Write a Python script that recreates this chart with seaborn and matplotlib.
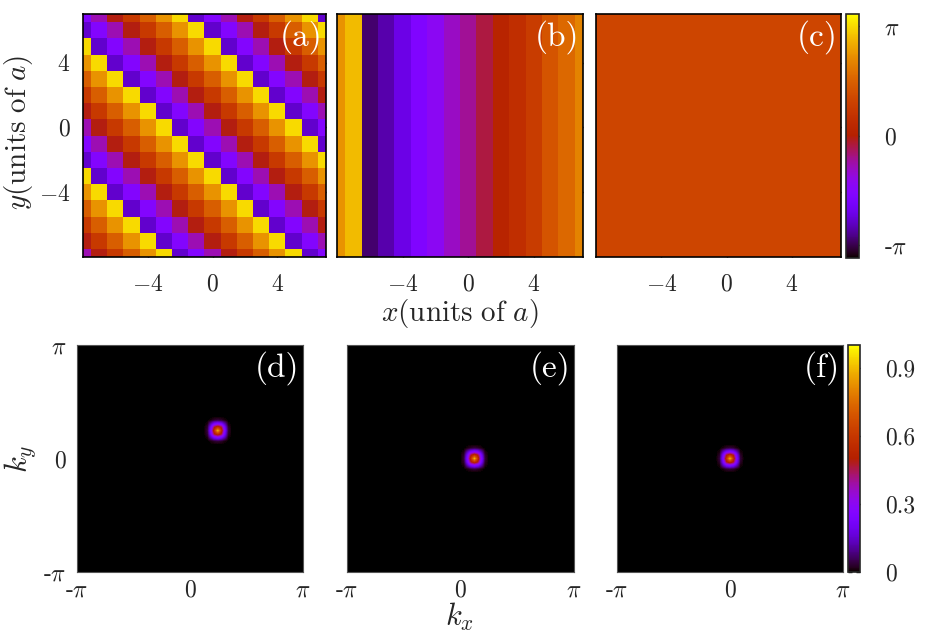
import numpy as np
import matplotlib
matplotlib.use('Agg')
import matplotlib.pyplot as plt
import seaborn as sns

# phase maps (top row), values in radians
SITES = list(range(-8, 8))
PHASE_LEVELS_A = [-2.45, -1.65, -0.86, -0.07, 0.74, 1.53, 2.31, 3.12]
# level index per site, row y=7 first, column x=-8 first
ROWS_A = [
    "1234567012345670",
    "0123456701234567",
    "7012345670123456",
    "6701234567012345",
    "5670123456701234",
    "4567012345670123",
    "3456701234567012",
    "2345670123456701",
    "1234567012345670",
    "0123456701234567",
    "7012345670123456",
    "6701234567012345",
    "5670123456701234",
    "4567012345670123",
    "3456701234567012",
    "2345670123456701",
]
PHASE_B = [2.31, 2.80, -3.00, -2.66, -2.24, -1.75, -1.40, -0.98,
           -0.71, -0.28, 0.14, 0.46, 0.81, 1.33, 1.68, 2.10]
PHASE_C = 1.02
PHASE_RANGE = 3.5

# momentum distributions (bottom row)
NK = 65
SPOT_PATCH = [
    [0.00, 0.01, 0.03, 0.04, 0.03, 0.01, 0.00],
    [0.01, 0.12, 0.22, 0.26, 0.22, 0.12, 0.01],
    [0.03, 0.22, 0.48, 0.58, 0.48, 0.22, 0.03],
    [0.04, 0.26, 0.58, 0.90, 0.58, 0.26, 0.04],
    [0.03, 0.22, 0.48, 0.58, 0.48, 0.22, 0.03],
    [0.01, 0.12, 0.22, 0.26, 0.22, 0.12, 0.01],
    [0.00, 0.01, 0.03, 0.04, 0.03, 0.01, 0.00],
]
SPOT_CENTERS = [(0.785, 0.785), (0.39, 0.0), (0.0, 0.0)]

TOP_LABELS = ['(a)', '(b)', '(c)']
BOTTOM_LABELS = ['(d)', '(e)', '(f)']

sns.set_style('ticks')
plt.rcParams['font.family'] = ['cmr10', 'DejaVu Serif']
plt.rcParams['mathtext.fontset'] = 'cm'
plt.rcParams['axes.formatter.use_mathtext'] = True
plt.rcParams['axes.unicode_minus'] = False

TICK_FS = 17
W, H = 929, 640
fig = plt.figure(figsize=(W / 100, H / 100), dpi=100)


def rect(x0, y0, x1, y1):
    return [x0 / W, 1 - y1 / H, (x1 - x0) / W, (y1 - y0) / H]


grid_a = np.array([[PHASE_LEVELS_A[int(c)] for c in row] for row in ROWS_A])
grid_b = np.tile(PHASE_B, (len(SITES), 1))
grid_c = np.full((len(SITES), len(SITES)), PHASE_C)

top_rects = [rect(83, 14, 326, 257), rect(337, 14, 583, 257), rect(596, 14, 841, 257)]
cax_top = fig.add_axes(rect(846, 13.5, 859, 257.5))

hm_ax = None
for i, (grid, r, lab) in enumerate(zip([grid_a, grid_b, grid_c], top_rects, TOP_LABELS)):
    ax = fig.add_axes(r)
    sns.heatmap(grid, ax=ax, cmap='gnuplot', vmin=-PHASE_RANGE, vmax=PHASE_RANGE,
                cbar=(i == 2), cbar_ax=cax_top if i == 2 else None,
                xticklabels=False, yticklabels=False)
    hm_ax = ax
    n = len(SITES)
    ax.set_xlim(0.5, n - 0.5)
    ax.set_ylim(n - 0.5, 0.5)
    ax.set_xticks([SITES.index(v) + 0.5 for v in (-4, 0, 4)])
    ax.set_xticklabels([r'$-4$', r'$0$', r'$4$'])
    ax.set_yticks([SITES[::-1].index(v) + 0.5 for v in (4, 0, -4)])
    if i == 0:
        ax.set_yticklabels([r'$4$', r'$0$', r'$-4$'])
    else:
        ax.set_yticklabels([])
    ax.tick_params(direction='in', top=True, right=True, length=3.5, width=1,
                   color='black', labelsize=TICK_FS)
    ax.tick_params(axis='x', pad=12)
    ax.tick_params(axis='y', pad=9)
    for s in ax.spines.values():
        s.set_visible(True)
        s.set_color('black')
        s.set_linewidth(1.2)
    ax.text(0.985, 0.975, lab, transform=ax.transAxes, ha='right', va='top',
            color='white', fontsize=24)

cb_top = hm_ax.collections[0].colorbar
cb_top.set_ticks([-np.pi, 0, np.pi])
cb_top.set_ticklabels(['-' + r'$\pi$', '0', r'$\pi$'])
cb_top.ax.tick_params(direction='in', left=True, right=True, length=3, width=1,
                      color='black', labelsize=TICK_FS, pad=18)
cb_top.outline.set_visible(True)
cb_top.outline.set_linewidth(1.2)

bottom_rects = [rect(77, 345, 303, 572), rect(347, 345, 574, 572), rect(617, 345, 843, 572)]
cax_bot = fig.add_axes(rect(848, 345, 860, 572))

patch = np.array(SPOT_PATCH)
half = patch.shape[0] // 2
im = None
for i, (center, r, lab) in enumerate(zip(SPOT_CENTERS, bottom_rects, BOTTOM_LABELS)):
    ax = fig.add_axes(r)
    dens = np.zeros((NK, NK))
    ix = int(round((center[0] + np.pi) / (2 * np.pi) * NK - 0.5))
    iy = int(round((center[1] + np.pi) / (2 * np.pi) * NK - 0.5))
    dens[iy - half:iy + half + 1, ix - half:ix + half + 1] = patch
    im = ax.imshow(dens, origin='lower', extent=[-np.pi, np.pi, -np.pi, np.pi],
                   cmap='gnuplot', vmin=0, vmax=1, interpolation='bilinear', aspect='auto')
    ax.set_xticks([-np.pi, 0, np.pi])
    ax.set_xticklabels(['-' + r'$\pi$', '0', r'$\pi$'])
    ax.set_yticks([-np.pi, 0, np.pi])
    if i == 0:
        ax.set_yticklabels(['-' + r'$\pi$', '0', r'$\pi$'])
    else:
        ax.set_yticklabels([])
    ax.tick_params(direction='in', length=0, labelsize=TICK_FS)
    ax.tick_params(axis='x', pad=5)
    ax.tick_params(axis='y', pad=8)
    for s in ax.spines.values():
        s.set_color('#555555')
        s.set_linewidth(0.8)
    ax.text(0.985, 0.975, lab, transform=ax.transAxes, ha='right', va='top',
            color='white', fontsize=24)

cb = fig.colorbar(im, cax=cax_bot, ticks=[0, 0.3, 0.6, 0.9])
cb.ax.set_yticklabels(['0', '0.3', '0.6', '0.9'])
cb.ax.tick_params(direction='in', left=True, right=True, length=3, width=1,
                  color='black', labelsize=TICK_FS, pad=18)
cb.outline.set_linewidth(1.2)

fig.text(19 / W, 1 - 132 / H, r'$y(\mathrm{units\ of\ }a)$', rotation=90,
         ha='center', va='center', fontsize=21)
fig.text(460 / W, 1 - 314 / H, r'$x(\mathrm{units\ of\ }a)$',
         ha='center', va='center', fontsize=21)
fig.text(460 / W, 1 - 617 / H, r'$k_x$', ha='center', va='center', fontsize=22)
fig.text(20 / W, 1 - 459 / H, r'$k_y$', rotation=90, ha='center', va='center', fontsize=22)

fig.savefig('out.png', dpi=100)
